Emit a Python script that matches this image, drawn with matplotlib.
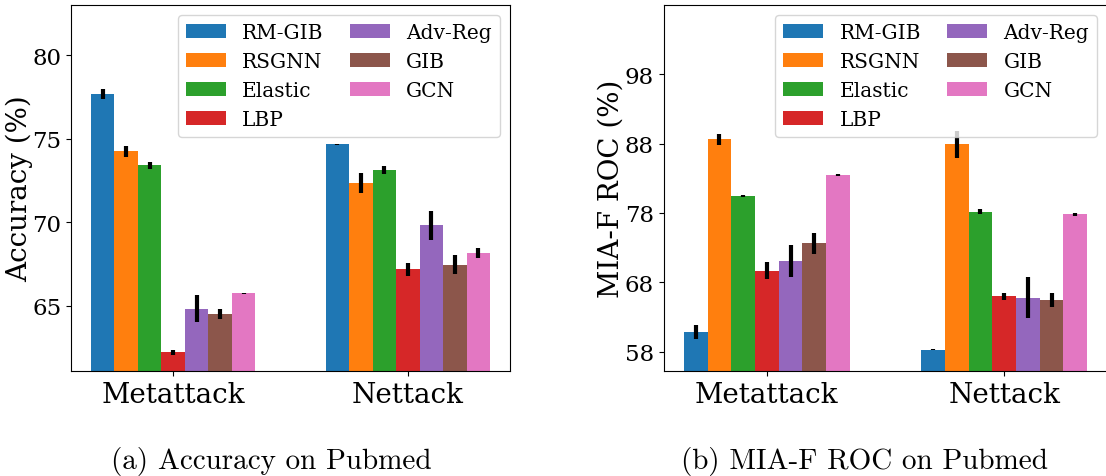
import numpy as np
import matplotlib
matplotlib.use('Agg')
import matplotlib.pyplot as plt

methods = ['RM-GIB', 'RSGNN', 'Elastic', 'LBP', 'Adv-Reg', 'GIB', 'GCN']
attacks = ['Metattack', 'Nettack']

# accuracy on pubmed, (metattack, nettack) per method
acc_meta = [77.65, 74.24, 73.41, 62.23, 64.84, 64.54, 65.74]
acc_meta_err = [0.3, 0.35, 0.2, 0.15, 0.8, 0.3, 0.05]
acc_net = [74.66, 72.35, 73.11, 67.19, 69.82, 67.47, 68.19]
acc_net_err = [0.05, 0.58, 0.25, 0.4, 0.88, 0.59, 0.3]

# MIA-F ROC on pubmed
mia_meta = [60.8, 88.6, 80.4, 69.7, 71.1, 73.6, 83.5]
mia_meta_err = [1.0, 0.8, 0.15, 1.2, 2.3, 1.5, 0.1]
mia_net = [58.3, 87.9, 78.2, 66.0, 65.8, 65.5, 77.8]
mia_net_err = [0.1, 1.9, 0.4, 0.5, 2.9, 1.0, 0.2]

acc_ticks = [65, 70, 75, 80]
mia_ticks = [58, 68, 78, 88, 98]

plt.rcParams['font.family'] = 'DejaVu Serif'
colors = plt.rcParams['axes.prop_cycle'].by_key()['color']

fig = plt.figure(figsize=(11.06, 4.77), dpi=100)
ax1 = fig.add_axes([0.0642, 0.2201, 0.3969, 0.7673])
ax2 = fig.add_axes([0.6001, 0.2201, 0.4011, 0.7673])


def draw(ax, meta, meta_err, net, net_err, ylabel, ylim, yticks):
    x = np.arange(len(attacks))
    width = 0.1
    for i, m in enumerate(methods):
        ax.bar(x + (i - 3) * width, [meta[i], net[i]], width,
               yerr=[meta_err[i], net_err[i]], color=colors[i], label=m,
               error_kw=dict(elinewidth=3, ecolor='black', capsize=0))
    ax.set_xticks(x)
    ax.set_xticklabels(attacks, fontsize=20)
    ax.set_yticks(yticks)
    ax.tick_params(axis='y', labelsize=16.5)
    ax.set_ylim(*ylim)
    ax.set_ylabel(ylabel, fontsize=20)
    ax.yaxis.set_label_coords(-0.087, 0.5)
    ax.legend(loc='upper right', ncol=2, fontsize=14.5, columnspacing=1.3)


draw(ax1, acc_meta, acc_meta_err, acc_net, acc_net_err, 'Accuracy (%)',
     (61.1, 83.0), acc_ticks)
draw(ax2, mia_meta, mia_meta_err, mia_net, mia_net_err, 'MIA-F ROC (%)',
     (55.2, 108.0), mia_ticks)

fig.text(0.2455, 0.016, '(a) Accuracy on Pubmed', family='cmr10',
         fontsize=21, ha='center')
fig.text(0.782, 0.016, '(b) MIA-F ROC on Pubmed', family='cmr10',
         fontsize=21, ha='center')

fig.savefig('out.png', dpi=100)
